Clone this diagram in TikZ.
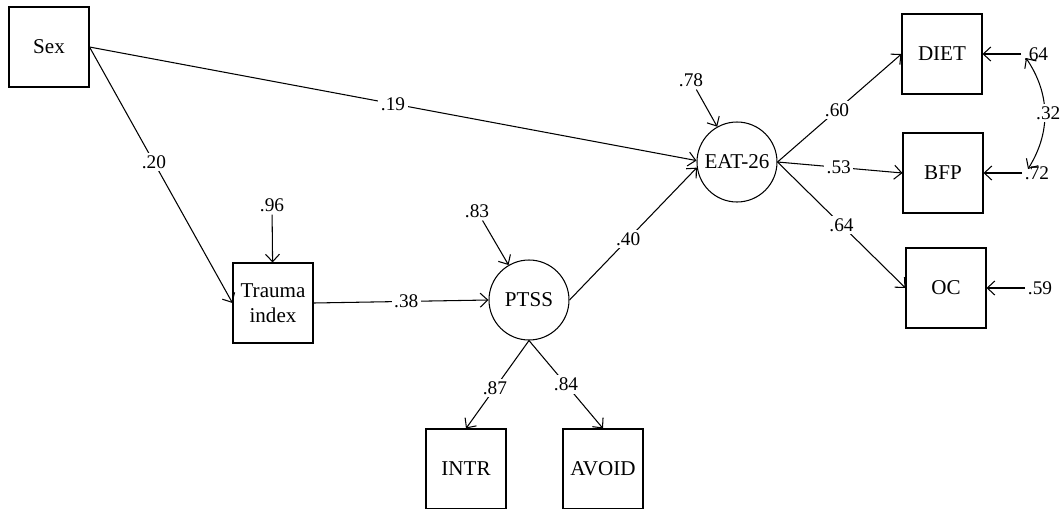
\documentclass[tikz,border=0pt]{standalone}
\usepackage{fontspec}
\setmainfont{Liberation Serif}
\usepackage{tikz}
\usetikzlibrary{arrows.meta,shapes,positioning}
\tikzstyle{obsbox} = [rectangle, minimum width=1.6cm, minimum height=1.6cm, text centered, align=center, draw, line width=0.6pt, font=\fontsize{12}{14.5}\selectfont]
\tikzstyle{latent} = [circle, minimum size=1.6cm, inner sep=0pt, draw, line width=0.6pt, font=\fontsize{12}{14.5}\selectfont]
\tikzstyle{coef} = [fill=white, inner sep=1.5pt, font=\fontsize{11}{13}\selectfont]
\tikzstyle{arrow} = [line width=0.6pt, -{Straight Barb[length=1.5mm,width=2.8mm]}]

\begin{document}
\begin{tikzpicture}[x=0.02cm, y=-0.02cm]
\useasboundingbox (0,0) rectangle (1063,508);
% observed and latent variables
\node[obsbox] (sex) at (49,47) {Sex};
\node[obsbox] (trauma) at (273,303) {Trauma\\index};
\node[latent] (ptss) at (529,300) {PTSS};
\node[latent] (eat) at (737,162) {EAT-26};
\node[obsbox] (intr) at (466,469) {INTR};
\node[obsbox] (avoid) at (603,469) {AVOID};
\node[obsbox] (diet) at (942,54) {DIET};
\node[obsbox] (bfp) at (943,173) {BFP};
\node[obsbox] (oc) at (946,288) {OC};

% residuals
\node[coef] (r96) at (272,205) {.96};
\node[coef] (r83) at (477,211) {.83};
\node[coef] (r78) at (691,80) {.78};
\node[coef, anchor=west] (r64) at (1021,54) {.64};
\node[coef, anchor=west] (r72) at (1022,173) {.72};
\node[coef, anchor=west] (r59) at (1025,288) {.59};
\coordinate (c64) at (1026,58);
\coordinate (c72) at (1028,169);

% paths
\draw[arrow] (sex.east) -- node[coef, pos=0.45] {.20} (trauma.west);
\draw[arrow] (sex.east) -- node[coef, pos=0.5] {.19} (eat.178);
\draw[arrow] (trauma.east) -- node[coef, pos=0.53] {.38} (ptss.west);
\draw[arrow] (ptss.east) -- node[coef, pos=0.46] {.40} (eat.188);
\draw[arrow] (ptss.south) -- node[coef, pos=0.54] {.87} (intr.north);
\draw[arrow] (ptss.south) -- node[coef, pos=0.5] {.84} (avoid.north);
\draw[arrow] (eat.east) -- node[coef, pos=0.48] {.60} (diet.west);
\draw[arrow] (eat.east) -- node[coef, pos=0.49] {.53} (bfp.west);
\draw[arrow] (eat.east) -- node[coef, pos=0.5] {.64} (oc.west);

\draw[arrow] (r96) -- (trauma);
\draw[arrow] (r83) -- (ptss);
\draw[arrow] (r78) -- (eat);
\draw[arrow] (r64) -- (diet);
\draw[arrow] (r72) -- (bfp);
\draw[arrow] (r59) -- (oc);
\draw[arrow, {Straight Barb[length=1.5mm,width=2.8mm]}-{Straight Barb[length=1.5mm,width=2.8mm]}] (c64) to[bend left=33] node[coef, xshift=2pt] {.32} (c72);
\end{tikzpicture}
\end{document}
